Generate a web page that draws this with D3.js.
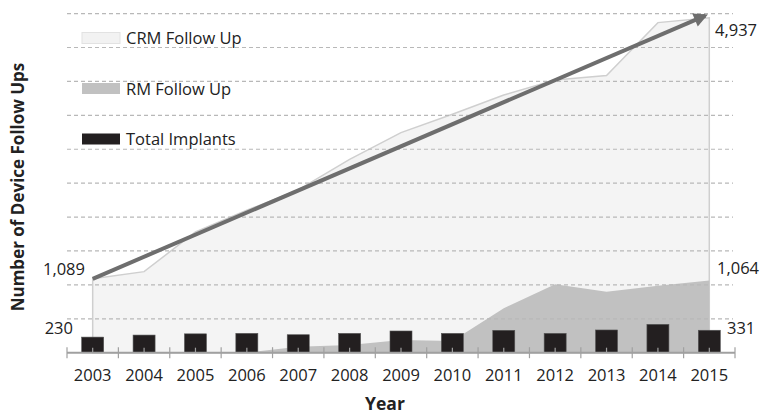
<!DOCTYPE html>
<html>
<head>
<meta charset="utf-8">
<script src="https://cdn.jsdelivr.net/npm/d3@7"></script>
<style>
  body { margin: 0; background: #fff; }
  text { font-family: "Open Sans", "Noto Sans", sans-serif; fill: #222; }
</style>
</head>
<body>
<div id="chart"></div>
<script>
// 数据
const years = [2003, 2004, 2005, 2006, 2007, 2008, 2009, 2010, 2011, 2012, 2013, 2014, 2015];
const crmFollowUp = [1089, 1195, 1780, 2100, 2400, 2850, 3245, 3516, 3800, 4020, 4086, 4867, 4937];
const rmFollowUp = [null, null, null, 0, 88, 113, 187, 172, 655, 1009, 900, 988, 1064];
const totalImplants = [230, 260, 278, 285, 265, 285, 320, 285, 330, 285, 335, 418, 331];
const gridValues = [500, 1000, 1500, 2000, 2500, 3000, 3500, 4000, 4500, 5000];
const trendStart = 1089, trendEnd = 5000;

const width = 760, height = 417;
const svg = d3.select("#chart").append("svg")
    .attr("width", width)
    .attr("height", height);

// 比例尺
const x = d3.scaleBand().domain(years).range([67, 735]).padding(0);
const cx = d => x(d) + x.bandwidth() / 2;
const y = d3.scaleLinear().domain([0, 5000]).range([352.7, 13.6]);

const rows = years.map((yr, i) => ({
    year: yr, crm: crmFollowUp[i], rm: rmFollowUp[i], total: totalImplants[i]
}));

// CRM 面积
const crmArea = d3.area().x(d => cx(d.year)).y0(y(0)).y1(d => y(d.crm));
svg.append("path")
    .datum(rows)
    .attr("d", crmArea)
    .attr("fill", "#f4f4f4")
    .attr("stroke", "#cfcfcf")
    .attr("stroke-width", 1.5);

// RM 面积
const rmArea = d3.area()
    .defined(d => d.rm !== null)
    .x(d => cx(d.year)).y0(y(0)).y1(d => y(d.rm));
svg.append("path")
    .datum(rows)
    .attr("d", rmArea)
    .attr("fill", "#c1c1c1");

// 网格线
svg.append("g")
    .selectAll("line")
    .data(gridValues)
    .join("line")
    .attr("x1", 67).attr("x2", 733)
    .attr("y1", d => y(d)).attr("y2", d => y(d))
    .attr("stroke", "#b8b8b8")
    .attr("stroke-width", 1.2)
    .attr("stroke-dasharray", "4,3");

// 趋势箭头
svg.append("defs").append("marker")
    .attr("id", "arrow")
    .attr("viewBox", "0 0 10 10")
    .attr("refX", 8).attr("refY", 5)
    .attr("markerWidth", 4.5).attr("markerHeight", 3.5)
    .attr("orient", "auto")
    .append("path")
    .attr("d", "M0,0L10,5L0,10Z")
    .attr("fill", "#6e6e6e");

svg.append("line")
    .attr("x1", cx(years[0])).attr("y1", y(trendStart))
    .attr("x2", cx(years[years.length - 1]) - 4).attr("y2", y(trendEnd) + 2)
    .attr("stroke", "#6e6e6e")
    .attr("stroke-width", 4)
    .attr("marker-end", "url(#arrow)");

// 柱子
const barW = 22;
svg.append("g")
    .selectAll("rect")
    .data(rows)
    .join("rect")
    .attr("x", d => cx(d.year) - barW / 2)
    .attr("y", d => y(d.total))
    .attr("width", barW)
    .attr("height", d => y(0) - y(d.total))
    .attr("fill", "#231f20")
    .attr("stroke", "#555")
    .attr("stroke-width", 0.6);

// X 轴
const axis = svg.append("g").attr("transform", `translate(0,${y(0)})`);
axis.append("line")
    .attr("x1", 67).attr("x2", 735)
    .attr("stroke", "#a0a0a0").attr("stroke-width", 2);
const edges = years.map(d => x(d)).concat([x(years[years.length - 1]) + x.bandwidth()]);
axis.selectAll(".edge")
    .data(edges)
    .join("line")
    .attr("class", "edge")
    .attr("x1", d => d).attr("x2", d => d)
    .attr("y1", -5.5).attr("y2", 5.5)
    .attr("stroke", "#a0a0a0").attr("stroke-width", 1.2);
axis.selectAll(".mid")
    .data(years)
    .join("line")
    .attr("class", "mid")
    .attr("x1", d => cx(d)).attr("x2", d => cx(d))
    .attr("y1", -5).attr("y2", 0)
    .attr("stroke", "#a0a0a0").attr("stroke-width", 1.2);
axis.selectAll(".lbl")
    .data(years)
    .join("text")
    .attr("class", "lbl")
    .attr("x", d => cx(d))
    .attr("y", 28.5)
    .attr("text-anchor", "middle")
    .style("font-size", "16.5px")
    .text(d => d);

// 数值标签
const fmt = d3.format(",");
const first = rows[0], last = rows[rows.length - 1];
svg.append("text").attr("x", 85).attr("y", y(first.crm) - 4)
    .attr("text-anchor", "end").style("font-size", "16.5px").text(fmt(first.crm));
svg.append("text").attr("x", 73).attr("y", y(first.total) - 3)
    .attr("text-anchor", "end").style("font-size", "16.5px").text(fmt(first.total));
svg.append("text").attr("x", 715).attr("y", y(last.crm) + 18)
    .style("font-size", "16.5px").text(fmt(last.crm));
svg.append("text").attr("x", 717).attr("y", y(last.rm) - 7)
    .style("font-size", "16.5px").text(fmt(last.rm));
svg.append("text").attr("x", 727).attr("y", y(last.total) + 4)
    .style("font-size", "16.5px").text(fmt(last.total));

// 图例
const legend = [
    { name: "CRM Follow Up", fill: "#f2f2f2", stroke: "#e2e2e2", cy: 38 },
    { name: "RM Follow Up", fill: "#c1c1c1", stroke: "none", cy: 88.5 },
    { name: "Total Implants", fill: "#231f20", stroke: "none", cy: 139 }
];
const lg = svg.append("g");
lg.selectAll("rect")
    .data(legend)
    .join("rect")
    .attr("x", 82).attr("y", d => d.cy - 5.5)
    .attr("width", 38).attr("height", 11)
    .attr("fill", d => d.fill)
    .attr("stroke", d => d.stroke);
lg.selectAll("text")
    .data(legend)
    .join("text")
    .attr("x", 126).attr("y", d => d.cy + 6)
    .style("font-size", "16.5px")
    .text(d => d.name);

// 轴标题
svg.append("text")
    .attr("transform", "translate(24,187) rotate(-90)")
    .attr("text-anchor", "middle")
    .style("font-size", "17px").style("font-weight", "bold")
    .text("Number of Device Follow Ups");
svg.append("text")
    .attr("x", 385).attr("y", 410)
    .attr("text-anchor", "middle")
    .style("font-size", "17.5px").style("font-weight", "bold")
    .text("Year");
</script>
</body>
</html>
